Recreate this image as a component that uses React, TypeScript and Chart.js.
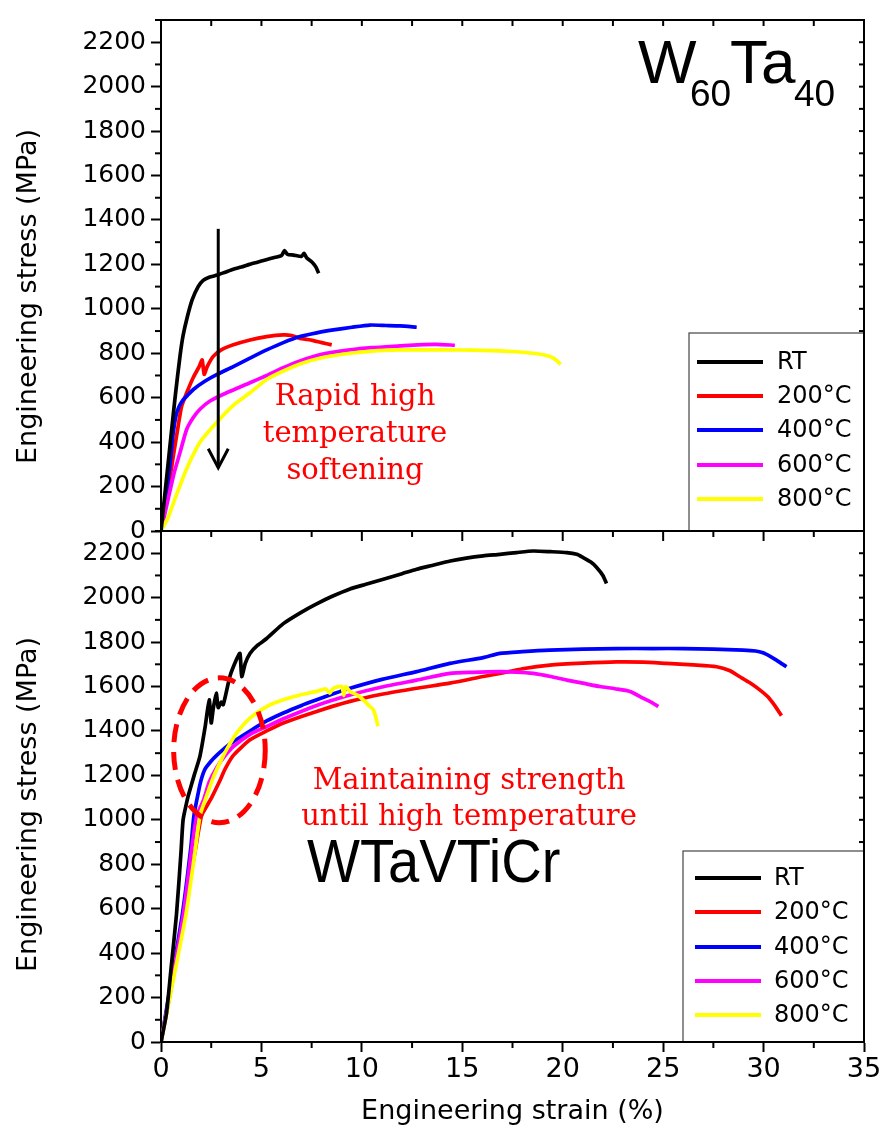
import React, { useEffect, useRef } from 'react';
import { Chart, registerables } from 'chart.js';

Chart.register(...registerables);

// ---------- Data ----------
const seriesLabels = ['RT', '200°C', '400°C', '600°C', '800°C'];
const seriesColors = ['#000000', '#ff0000', '#0000ff', '#ff00ff', '#ffff00'];
const xTickValues = [0, 5, 10, 15, 20, 25, 30, 35];
const yTickValues = [0, 200, 400, 600, 800, 1000, 1200, 1400, 1600, 1800, 2000, 2200];
const topAlloyLabel = ['W', '60', 'Ta', '40'];
const bottomAlloyLabel = 'WTaVTiCr';
const topNote = ['Rapid high', 'temperature', 'softening'];
const bottomNote = ['Maintaining strength', 'until high temperature'];
const xTitle = 'Engineering strain (%)';
const yTitle = 'Engineering stress (MPa)';

// W60Ta40 panel: [strain %, stress MPa]
const w60RT: [number, number][] = [
  [0, 0], [0.35, 300], [0.7, 600], [0.95, 790], [1.1, 880], [1.3, 960], [1.55, 1040], [1.85, 1100],
  [2.1, 1128], [2.4, 1142], [2.8, 1152], [3.2, 1165], [3.6, 1178], [4.0, 1188], [4.4, 1200],
  [4.8, 1210], [5.2, 1220], [5.6, 1230], [6.0, 1240], [6.15, 1262], [6.3, 1245], [6.6, 1242],
  [7.0, 1236], [7.12, 1250], [7.25, 1230], [7.5, 1212], [7.7, 1190], [7.85, 1160],
];
const w60T200: [number, number][] = [
  [0, 0], [0.3, 150], [0.6, 330], [0.85, 470], [1.03, 562], [1.28, 622], [1.6, 690], [1.9, 740],
  [2.05, 770], [2.15, 705], [2.3, 740], [2.6, 786], [3.0, 815], [3.6, 838], [4.43, 860],
  [5.26, 875], [6.09, 883], [6.5, 880], [6.92, 867], [7.3, 862], [7.59, 857], [8.0, 848], [8.5, 838],
];
const w60T400: [number, number][] = [
  [0, 0], [0.23, 146], [0.45, 300], [0.61, 443], [0.75, 520], [0.9, 560], [1.1, 590], [1.28, 607],
  [1.61, 637], [2.2, 675], [2.77, 704], [3.6, 740], [4.43, 778], [5.26, 815], [6.09, 848],
  [6.92, 875], [7.75, 892], [8.58, 905], [9.5, 917], [10.4, 927], [11.2, 925], [11.9, 923], [12.73, 917],
];
const w60T600: [number, number][] = [
  [0, 0], [0.36, 146], [0.65, 260], [0.95, 354], [1.28, 458], [1.6, 510], [1.94, 548], [2.44, 585],
  [3.27, 622], [4.43, 667], [5.26, 700], [6.09, 735], [6.92, 765], [8.0, 795], [9.41, 815],
  [10.5, 825], [11.9, 833], [12.8, 838], [13.7, 840], [14.63, 836],
];
const w60T800: [number, number][] = [
  [0, 0], [0.35, 60], [0.7, 146], [1.28, 280], [1.94, 399], [2.77, 488], [3.6, 565], [4.43, 622],
  [5.26, 682], [6.09, 720], [6.92, 752], [8.0, 780], [9.41, 800], [10.5, 810], [11.9, 815],
  [13.0, 815], [14.4, 815], [15.5, 814], [16.5, 812], [17.5, 808], [18.5, 800], [19.2, 790],
  [19.6, 775], [19.9, 750],
];

// WTaVTiCr panel: [strain %, stress MPa]
const hRT: [number, number][] = [
  [0, 0], [0.27, 127], [0.5, 330], [0.77, 573], [1.0, 860], [1.1, 1000], [1.27, 1075], [1.36, 1109],
  [1.65, 1200], [1.94, 1287], [2.2, 1420], [2.4, 1540], [2.5, 1436], [2.6, 1500], [2.75, 1570],
  [2.85, 1505], [3.0, 1530], [3.1, 1518], [3.43, 1645], [3.75, 1720], [3.93, 1749], [4.02, 1645],
  [4.2, 1705], [4.43, 1749], [4.8, 1785], [5.26, 1816], [6.09, 1883], [7.0, 1935], [7.75, 1972],
  [8.5, 2005], [9.41, 2039], [10.2, 2060], [11.07, 2083], [12.0, 2108], [12.73, 2128], [13.5, 2145],
  [14.4, 2165], [15.2, 2178], [16.04, 2188], [16.87, 2195], [17.7, 2203], [18.53, 2210], [19.4, 2207],
  [20.2, 2203], [20.7, 2195], [21.02, 2180], [21.4, 2160], [21.69, 2136], [22.0, 2100], [22.18, 2064],
];
const hT200: [number, number][] = [
  [0, 0], [0.5, 240], [1.0, 490], [1.31, 660], [1.7, 860], [2.02, 1019], [2.3, 1065], [2.52, 1100],
  [2.9, 1170], [3.2, 1230], [3.6, 1290], [4.43, 1360], [5.26, 1400], [6.09, 1436], [7.75, 1488],
  [9.41, 1533], [11.0, 1565], [12.73, 1592], [14.38, 1615], [16.04, 1645], [16.87, 1659],
  [18.0, 1680], [19.36, 1696], [21.0, 1705], [22.68, 1711], [24.0, 1710], [25.17, 1704],
  [26.5, 1697], [27.66, 1689], [28.3, 1672], [28.82, 1644], [29.3, 1618], [29.81, 1585],
  [30.2, 1555], [30.47, 1525], [30.7, 1495], [30.89, 1469],
];
const hT400: [number, number][] = [
  [0, 0], [0.5, 270], [1.06, 573], [1.48, 871], [1.64, 1019], [1.86, 1124], [2.0, 1180], [2.19, 1228],
  [2.5, 1265], [2.77, 1290], [3.2, 1325], [3.6, 1352], [4.43, 1400], [5.26, 1445], [6.09, 1481],
  [7.0, 1515], [7.75, 1540], [8.58, 1567], [9.41, 1592], [11.0, 1632], [12.73, 1667], [14.38, 1704],
  [16.04, 1730], [16.87, 1749], [18.0, 1757], [19.36, 1764], [21.0, 1768], [22.68, 1771],
  [24.5, 1771], [26.0, 1771], [27.5, 1768], [28.98, 1764], [29.6, 1760], [29.97, 1752],
  [30.35, 1735], [30.64, 1719], [31.14, 1689],
];
const hT600: [number, number][] = [
  [0, 0], [0.5, 250], [1.11, 573], [1.53, 871], [1.78, 1019], [2.11, 1087], [2.4, 1170], [2.77, 1235],
  [3.2, 1290], [3.6, 1330], [4.43, 1385], [5.26, 1420], [6.09, 1455], [7.75, 1515], [9.41, 1562],
  [11.0, 1598], [12.73, 1629], [14.38, 1659], [15.5, 1664], [16.87, 1667], [17.7, 1665],
  [18.53, 1659], [19.4, 1645], [20.2, 1629], [21.0, 1615], [21.85, 1600], [22.6, 1590],
  [23.35, 1578], [24.0, 1548], [24.4, 1530], [24.76, 1510],
];
const hT800: [number, number][] = [
  [0, 0], [0.5, 230], [1.24, 573], [1.7, 860], [1.94, 1019], [2.19, 1087], [2.6, 1190], [3.0, 1270],
  [3.27, 1317], [3.77, 1391], [4.43, 1458], [5.26, 1510], [6.09, 1540], [6.92, 1562], [7.75, 1578],
  [8.2, 1590], [8.4, 1570], [8.58, 1592], [9.0, 1600], [9.1, 1560], [9.2, 1600], [9.41, 1578],
  [9.8, 1560], [10.07, 1540], [10.4, 1510], [10.57, 1496], [10.7, 1460], [10.8, 1421],
];

const topSeries = [w60RT, w60T200, w60T400, w60T600, w60T800];
const bottomSeries = [hRT, hT200, hT400, hT600, hT800];

// arrow and ellipse annotation anchors (data units)
const arrowStrain = 2.85;
const arrowFrom = 1360;
const arrowTo = 285;
const ellipseCenter = [2.91, 1313];
const ellipseRadii = [2.28, 326];

const SANS = '"DejaVu Sans", sans-serif';
const SERIF = '"DejaVu Serif", serif';
const ARIAL = '"Liberation Sans", Arial, sans-serif';

function line(ctx: CanvasRenderingContext2D, x1: number, y1: number, x2: number, y2: number) {
  ctx.beginPath();
  ctx.moveTo(x1, y1);
  ctx.lineTo(x2, y2);
  ctx.stroke();
}

const decorPlugin = {
  id: 'decor',
  afterDraw(chart: any) {
    const ctx: CanvasRenderingContext2D = chart.ctx;
    const xs = chart.scales.x;
    const yT = chart.scales.yTop;
    const yB = chart.scales.yBot;
    const { left, right } = chart.chartArea;
    ctx.save();
    ctx.strokeStyle = '#000';
    ctx.lineWidth = 2;
    ctx.lineCap = 'butt';

    // frame
    line(ctx, left - 1, yT.top, right + 1, yT.top);
    line(ctx, right, yT.top, right, yB.bottom + 1);
    line(ctx, left, yT.bottom, right, yT.bottom);

    // y minor ticks + right inner ticks
    for (const ax of [yT, yB]) {
      for (let v = 100; v <= 2300; v += 100) {
        const py = ax.getPixelForValue(v);
        if (v % 200 === 100) line(ctx, left - 6, py, left, py);
        if (v < 2300) line(ctx, right - 5, py, right, py);
      }
    }
    // x ticks on separator, top border, and bottom minor
    for (let v = 2.5; v < 35; v += 2.5) {
      const px = xs.getPixelForValue(v);
      const major = Math.abs(v % 5) < 1e-6;
      line(ctx, px, yT.bottom, px, yT.bottom + (major ? 10 : 6));
      line(ctx, px, yT.top, px, yT.top + 6);
      if (!major) line(ctx, px, yB.bottom, px, yB.bottom + 6);
    }

    // y axis titles (rotated)
    ctx.fillStyle = '#000';
    ctx.font = `27px ${SANS}`;
    ctx.textAlign = 'center';
    ctx.textBaseline = 'middle';
    for (const [ax, shift] of [[yT, 21], [yB, 18]] as [any, number][]) {
      ctx.save();
      ctx.translate(29, (ax.top + ax.bottom) / 2 + shift);
      ctx.rotate(-Math.PI / 2);
      ctx.fillText(yTitle, 0, 0);
      ctx.restore();
    }

    // arrow
    ctx.lineWidth = 3;
    const ax = xs.getPixelForValue(arrowStrain);
    const ay1 = yT.getPixelForValue(arrowFrom);
    const ay2 = yT.getPixelForValue(arrowTo);
    line(ctx, ax, ay1, ax, ay2);
    ctx.beginPath();
    ctx.moveTo(ax - 10, ay2 - 19);
    ctx.lineTo(ax, ay2);
    ctx.lineTo(ax + 10, ay2 - 19);
    ctx.stroke();

    // dashed ellipse
    const ecx = xs.getPixelForValue(ellipseCenter[0]);
    const ecy = yB.getPixelForValue(ellipseCenter[1]);
    const erx = xs.getPixelForValue(ellipseCenter[0] + ellipseRadii[0]) - ecx;
    const ery = ecy - yB.getPixelForValue(ellipseCenter[1] + ellipseRadii[1]);
    ctx.strokeStyle = '#ff0000';
    ctx.lineWidth = 5;
    ctx.setLineDash([18, 10]);
    ctx.beginPath();
    ctx.ellipse(ecx, ecy, erx, ery, 0, 0, Math.PI * 2);
    ctx.stroke();
    ctx.setLineDash([]);

    // legends
    const drawLegend = (bx1: number, by1: number, bx2: number, by2: number, lx1: number, lx2: number, tx: number, rows: number[]) => {
      ctx.fillStyle = '#fff';
      ctx.fillRect(bx1, by1, bx2 - bx1, by2 - by1);
      ctx.strokeStyle = '#444';
      ctx.lineWidth = 1.2;
      ctx.strokeRect(bx1, by1, bx2 - bx1, by2 - by1);
      ctx.font = `24px ${SANS}`;
      ctx.textBaseline = 'middle';
      ctx.textAlign = 'left';
      seriesLabels.forEach((lab, i) => {
        ctx.strokeStyle = seriesColors[i];
        ctx.lineWidth = 4;
        line(ctx, lx1, rows[i], lx2, rows[i]);
        ctx.fillStyle = '#000';
        ctx.fillText(lab, tx, rows[i] + 1);
      });
    };
    drawLegend(689, 333, right, yT.bottom, 697, 763, 777, [362, 396, 430, 465, 499]);
    drawLegend(683, 851, right, yB.bottom, 695, 761, 774, [878, 912, 947, 981, 1015]);
    // redraw right border and separator over legend edges
    ctx.strokeStyle = '#000';
    ctx.lineWidth = 2;
    line(ctx, right, yT.top, right, yB.bottom + 1);
    line(ctx, left, yT.bottom, right, yT.bottom);
    line(ctx, left, yB.bottom, right + 1, yB.bottom);

    // notes
    ctx.fillStyle = '#ff0000';
    ctx.font = `29px ${SERIF}`;
    ctx.textAlign = 'center';
    ctx.textBaseline = 'alphabetic';
    const topBase = [405, 442, 479];
    topNote.forEach((t, i) => ctx.fillText(t, 355, topBase[i]));
    const botBase = [789, 825];
    bottomNote.forEach((t, i) => ctx.fillText(t, 469, botBase[i]));

    // alloy labels
    ctx.fillStyle = '#000';
    ctx.textAlign = 'left';
    ctx.font = `62px ${ARIAL}`;
    ctx.fillText(topAlloyLabel[0], 638, 83);
    ctx.fillText(topAlloyLabel[2], 730, 83);
    ctx.font = `37px ${ARIAL}`;
    ctx.fillText(topAlloyLabel[1], 690, 106);
    ctx.fillText(topAlloyLabel[3], 794, 106);

    ctx.save();
    ctx.translate(307, 882);
    ctx.scale(0.92, 1);
    ctx.font = `61px ${ARIAL}`;
    ctx.fillText(bottomAlloyLabel, 0, 0);
    ctx.restore();

    ctx.restore();
  },
};

const makeDatasets = (series: [number, number][][], axis: string) =>
  series.map((s, i) => ({
    label: `${axis}-${seriesLabels[i]}`,
    data: s.map(([x, y]) => ({ x, y })),
    borderColor: seriesColors[i],
    backgroundColor: seriesColors[i],
    borderWidth: 3.7,
    pointRadius: 0,
    tension: 0.2,
    fill: false,
    yAxisID: axis,
    order: i === 0 ? 0 : 5 - i,
  }));

const yAxisBase = () => ({
  type: 'linear' as const,
  position: 'left' as const,
  stack: 'panels',
  stackWeight: 1,
  min: 0,
  max: 2300,
  afterFit: (scale: any) => {
    scale.width = 161;
  },
  afterBuildTicks: (scale: any) => {
    scale.ticks = yTickValues.map((v) => ({ value: v }));
  },
  ticks: {
    autoSkip: false,
    includeBounds: false,
    padding: 5,
    color: '#000',
    font: { family: SANS, size: 25 },
    callback: (v: any) => String(v),
  },
  grid: {
    drawOnChartArea: false,
    drawTicks: true,
    tickLength: 10,
    tickWidth: 2,
    tickColor: '#000',
    color: '#000',
  },
  border: { display: true, width: 2, color: '#000' },
  title: { display: false },
});

export default function App() {
  const canvasRef = useRef<HTMLCanvasElement | null>(null);

  useEffect(() => {
    if (!canvasRef.current) return;
    const chart = new Chart(canvasRef.current, {
      type: 'line',
      data: {
        datasets: [...makeDatasets(topSeries, 'yTop'), ...makeDatasets(bottomSeries, 'yBot')],
      },
      options: {
        animation: false,
        responsive: false,
        devicePixelRatio: 1,
        layout: { padding: { top: 11, right: 21, bottom: 0, left: 0 } },
        plugins: { legend: { display: false }, tooltip: { enabled: false } },
        scales: {
          x: {
            type: 'linear',
            position: 'bottom',
            min: 0,
            max: 35,
            afterFit: (scale: any) => {
              scale.height = 96;
            },
            afterBuildTicks: (scale: any) => {
              scale.ticks = xTickValues.map((v) => ({ value: v }));
            },
            ticks: {
              autoSkip: false,
              padding: 2,
              maxRotation: 0,
              color: '#000',
              font: { family: SANS, size: 27 },
              callback: (v: any) => String(v),
            },
            grid: {
              drawOnChartArea: false,
              drawTicks: true,
              tickLength: 10,
              tickWidth: 2,
              tickColor: '#000',
              color: '#000',
            },
            border: { display: true, width: 2, color: '#000' },
            title: {
              display: true,
              text: xTitle,
              color: '#000',
              font: { family: SANS, size: 27 },
              padding: { top: 0, bottom: 10 },
            },
          },
          yBot: yAxisBase(),
          yTop: yAxisBase(),
        },
      },
      plugins: [decorPlugin],
    });
    return () => chart.destroy();
  }, []);

  return (
    <div style={{ position: 'absolute', left: 0, top: 0, width: 885, height: 1138, background: '#fff' }}>
      <canvas ref={canvasRef} width={885} height={1138} style={{ display: 'block' }} />
    </div>
  );
}
